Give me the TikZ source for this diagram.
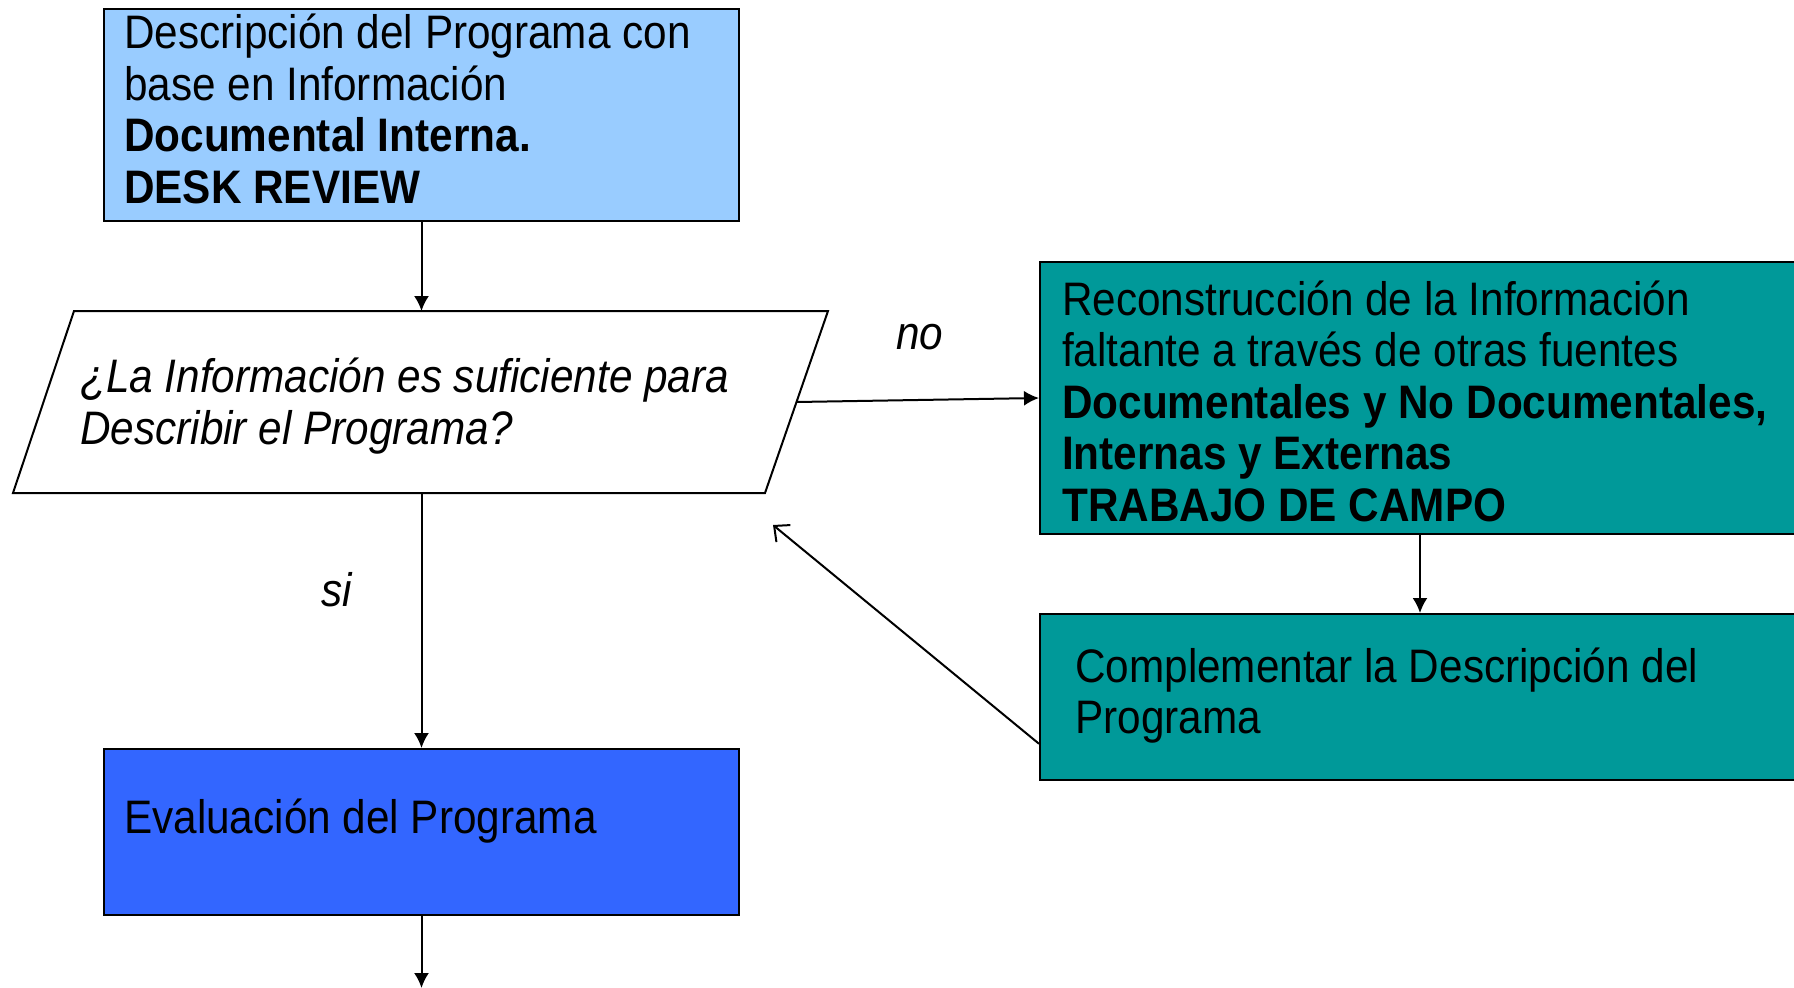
\documentclass[tikz,border=0pt]{standalone}
\usepackage{fontspec}
\setmainfont{Liberation Sans}[FakeStretch=0.9]
\usetikzlibrary{arrows.meta}
\definecolor{lblue}{HTML}{99CCFF}
\definecolor{tealbox}{HTML}{009999}
\definecolor{rblue}{HTML}{3366FF}
\begin{document}
\begin{tikzpicture}[x=1pt,y=-1pt,
  box/.style={draw=black, line width=2pt, minimum width=635pt, inner sep=0pt},
  txt/.style={anchor=base west, inner sep=0pt, align=left, font=\fontsize{47}{51.5}\selectfont},
  itxt/.style={txt, font=\fontsize{47}{51.5}\selectfont\itshape},
  arr/.style={line width=2pt, -{Latex[length=15pt,width=15pt]}},
  backarr/.style={line width=2pt, -{Straight Barb[length=12pt,width=22pt]}}
  ]
\useasboundingbox (0,0) rectangle (1794,988);
% boxes
\node[box, fill=lblue, minimum height=212pt] (D) at (421.5,115) {};
\coordinate (Pbl) at (13,493);
\coordinate (Ptl) at (74,311);
\coordinate (Ptr) at (828,311);
\coordinate (Pbr) at (765,493);
\draw[line width=2pt] (Pbl) -- (Ptl) -- (Ptr) -- (Pbr) -- cycle;
\coordinate (Ptop) at (421.5,311);
\coordinate (Pbot) at (421.5,493);
\coordinate (Pright) at (796.5,402);
\node[box, fill=tealbox, minimum width=760pt, minimum height=272pt] (R) at (1420,398) {};
\node[box, fill=tealbox, minimum width=760pt, minimum height=166pt] (C) at (1420,697) {};
\node[box, fill=rblue, minimum height=166pt] (E) at (421.5,832) {};
% texts (anchored at the baseline of their last line)
\node[txt] (Dt) at (124,203) {Descripción del Programa con\\base en Información\\\textbf{Documental Interna.}\\\textbf{DESK REVIEW}};
\node[itxt] (Pt) at (80,444) {¿La Información es suficiente para\\Describir el Programa?};
\node[txt] (Rt) at (1062,521) {Reconstrucción de la Información\\faltante a través de otras fuentes\\\textbf{Documentales y No Documentales,}\\\textbf{Internas y Externas}\\\textbf{TRABAJO DE CAMPO}};
\node[txt] (Ct) at (1075,733.5) {Complementar la Descripción del\\Programa};
\node[txt] (Et) at (124,833) {Evaluación del Programa};
\node[itxt] (no) at (896,349) {no};
\node[itxt] (si) at (321,606) {si};
% connectors
\coordinate (back) at (773,525);
\coordinate (out) at (421.5,988);
\draw[arr] (D.south) -- (Ptop);
\draw[arr] (Pright) -- (R.west);
\draw[arr] (Pbot) -- (E.north);
\draw[arr] (R.south) -- (C.north);
\draw[backarr] (C.187.4) -- (back);
\draw[arr] (E.south) -- (out);
\end{tikzpicture}
\end{document}
